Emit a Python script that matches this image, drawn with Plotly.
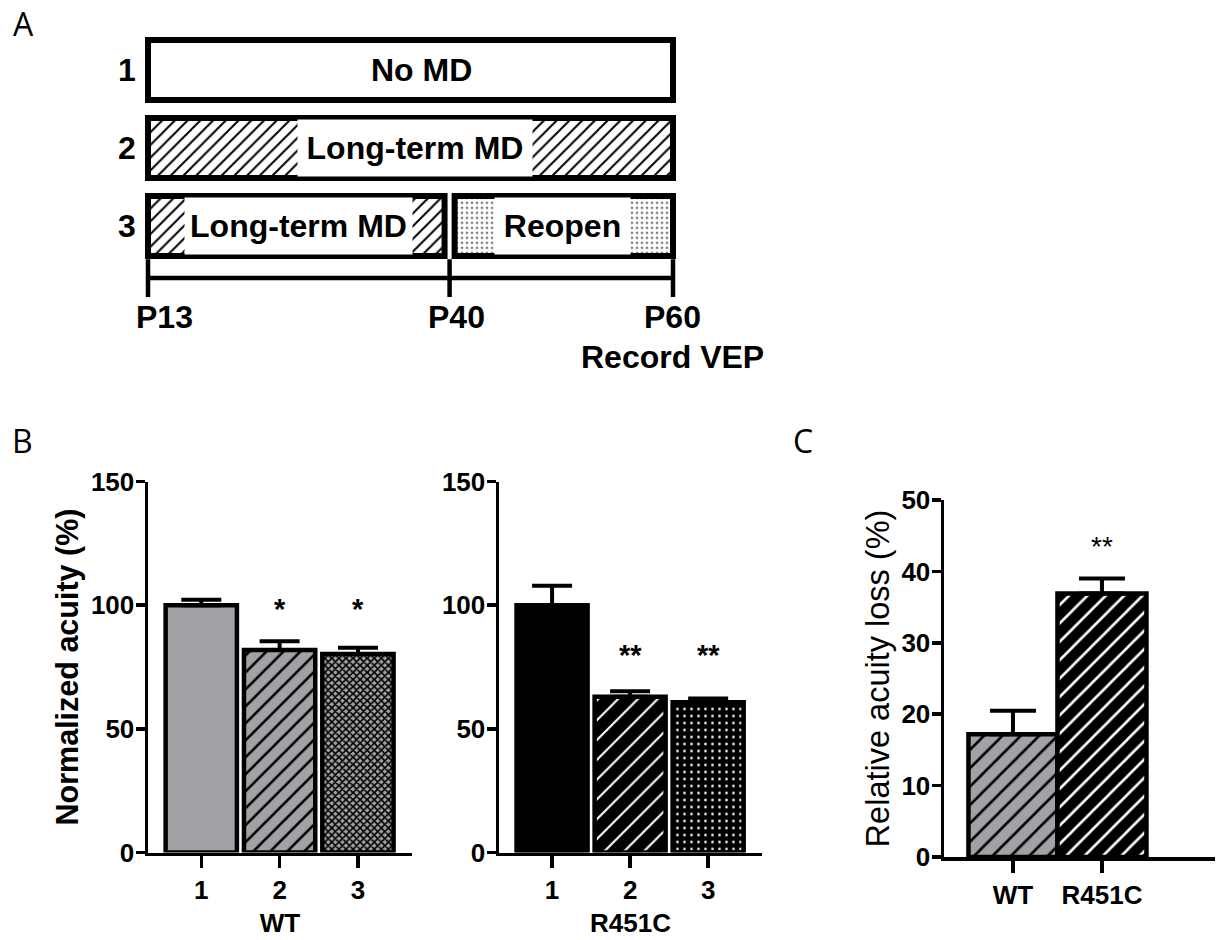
import plotly.graph_objects as go

# ---------------- data ----------------
# Panel A: experimental timeline (postnatal days)
timeline_days = [13, 40, 60]
timeline_labels = ["P13", "P40", "P60"]
timeline_note = "Record VEP"
row_ids = [1, 2, 3]
row_names = ["1", "2", "3"]
seg_rows = [1, 2, 3, 3]
seg_start = [13, 13, 13, 40]
seg_end = [60, 60, 40, 60]
seg_labels = ["No MD", "Long-term MD", "Long-term MD", "Reopen"]
seg_kinds = ["none", "hatch", "hatch", "dots"]

# Panel B: normalized acuity (%)
b_categories = ["1", "2", "3"]
wt_values = [100.0, 81.9, 80.3]
wt_errors = [2.2, 3.5, 2.5]
wt_sig = ["", "*", "*"]
r451c_values = [100.0, 63.0, 60.7]
r451c_errors = [7.9, 2.2, 1.6]
r451c_sig = ["", "**", "**"]

# Panel C: relative acuity loss (%)
c_categories = ["WT", "R451C"]
c_values = [17.2, 36.9]
c_errors = [3.3, 2.1]
c_sig = ["", "**"]

# ---------------- styling ----------------
W, H = 1221, 940
FONT = "Arial, 'Liberation Sans', sans-serif"
GRAY = "#a2a2a6"
BLACK = "#000000"


def px(p):
    return p / W


def py(p):
    return 1 - p / H


fig = go.Figure()

# ---------------- Panel A ----------------
GAP = 0.45
for r, s, e, kind in zip(seg_rows, seg_start, seg_end, seg_kinds):
    left = s + (GAP if s != min(seg_start) else 0)
    right = e - (GAP if e != max(seg_end) else 0)
    if kind == "hatch":
        pat = dict(shape="/", fgcolor=BLACK, bgcolor="white", size=9, solidity=0.22)
    elif kind == "dots":
        pat = dict(shape=".", fgcolor=BLACK, bgcolor="white", size=5, solidity=0.1)
    else:
        pat = dict(shape="")
    fig.add_trace(go.Bar(
        orientation="h", y=[r], x=[right - left], base=[left], width=0.77,
        marker=dict(color="white", line=dict(color=BLACK, width=6), pattern=pat),
        xaxis="x4", yaxis="y4", showlegend=False, hoverinfo="skip"))

TL_Y = 3.667
fig.add_trace(go.Scatter(
    x=[min(timeline_days), max(timeline_days)], y=[TL_Y, TL_Y], mode="lines",
    line=dict(color=BLACK, width=4.5), xaxis="x4", yaxis="y4",
    showlegend=False, hoverinfo="skip"))
fig.add_trace(go.Scatter(
    x=timeline_days, y=[TL_Y] * len(timeline_days), mode="markers",
    marker=dict(symbol="line-ns", size=27, line=dict(color=BLACK, width=4.5)),
    xaxis="x4", yaxis="y4", showlegend=False, hoverinfo="skip"))

fontA = dict(family=FONT, size=32, color=BLACK, weight="bold")
# segment labels (white patch behind text)
lab_shift = [11, 4, 0, 1]
lab_bg_w = [0, 232, 225, 133]
for r, s, e, lab, sh, bw in zip(seg_rows, seg_start, seg_end, seg_labels, lab_shift, lab_bg_w):
    ann = dict(x=(s + e) / 2, y=r, xref="x4", yref="y4", text=lab, showarrow=False,
               font=fontA, xshift=sh, xanchor="center", yanchor="middle")
    if bw:
        ann.update(bgcolor="white", width=bw, height=54)
    fig.add_annotation(**ann)
for r, n in zip(row_ids, row_names):
    fig.add_annotation(x=11.1, y=r, xref="x4", yref="y4", text=n, showarrow=False,
                       font=fontA, xanchor="center", yanchor="middle")
tl_shift = [16, 7, 0]
for d, lab, sh in zip(timeline_days, timeline_labels, tl_shift):
    fig.add_annotation(x=d, y=py(317), xref="x4", yref="paper", text=lab, showarrow=False,
                       font=fontA, xshift=sh, xanchor="center", yanchor="middle")
fig.add_annotation(x=max(timeline_days), y=py(357), xref="x4", yref="paper", text=timeline_note,
                   showarrow=False, font=fontA, xanchor="center", yanchor="middle")

# ---------------- Panel B ----------------
bar_line = dict(color=BLACK, width=4.5)
fig.add_trace(go.Bar(
    x=b_categories, y=wt_values, width=0.91,
    marker=dict(color=GRAY, line=bar_line,
                pattern=dict(shape=["", "/", "x"], fgcolor=BLACK, bgcolor=GRAY,
                             size=[10, 12, 5], solidity=[0.2, 0.22, 0.55])),
    error_y=dict(type="data", array=wt_errors, arrayminus=[0] * 3, symmetric=False,
                 thickness=4, width=20, color=BLACK),
    xaxis="x", yaxis="y", showlegend=False, hoverinfo="skip"))
fig.add_trace(go.Bar(
    x=b_categories, y=r451c_values, width=0.91,
    marker=dict(color=BLACK, line=bar_line,
                pattern=dict(shape=["", "/", "."], fgcolor="white", bgcolor=BLACK,
                             size=[10, 14, 7], solidity=[0.2, 0.15, 0.12])),
    error_y=dict(type="data", array=r451c_errors, arrayminus=[0] * 3, symmetric=False,
                 thickness=4, width=20, color=BLACK),
    xaxis="x2", yaxis="y2", showlegend=False, hoverinfo="skip"))

# ---------------- Panel C ----------------
c_fill = [GRAY, BLACK]
c_lines = [BLACK, "white"]
for i, (cat, v, e) in enumerate(zip(c_categories, c_values, c_errors)):
    fig.add_trace(go.Bar(
        x=[cat], y=[v], width=1.0,
        marker=dict(color=c_fill[i], line=bar_line,
                    pattern=dict(shape="/", fgcolor=c_lines[i], bgcolor=c_fill[i],
                                 size=13, solidity=0.2)),
        error_y=dict(type="data", array=[e], arrayminus=[0], symmetric=False,
                     thickness=4, width=23, color=BLACK),
        xaxis="x3", yaxis="y3", showlegend=False, hoverinfo="skip"))

# significance marks (x given as category index)
sig_font_b = dict(family=FONT, size=29, color=BLACK, weight="bold")
for i, s in enumerate(wt_sig):
    if s:
        fig.add_annotation(x=i, y=100, xref="x", yref="y", text=s, showarrow=False,
                           font=sig_font_b, yanchor="middle", yshift=-4)
for i, s in enumerate(r451c_sig):
    if s:
        fig.add_annotation(x=i, y=81.5, xref="x2", yref="y2", text=s, showarrow=False,
                           font=sig_font_b, yanchor="middle", yshift=-4)
for i, s in enumerate(c_sig):
    if s:
        fig.add_annotation(x=i, y=44.1, xref="x3", yref="y3", text=s, showarrow=False,
                           font=dict(family=FONT, size=28, color=BLACK), yanchor="middle", yshift=-4)

# panel letters
letter_font = dict(family="Open Sans", size=32, color=BLACK)
for t, x, y in [("A", 23, 23), ("B", 22, 440), ("C", 803, 440)]:
    fig.add_annotation(x=px(x), y=py(y), xref="paper", yref="paper", text=t, showarrow=False,
                       font=letter_font, xanchor="center", yanchor="middle")

# ---------------- axes ----------------
tickfont = dict(family=FONT, size=26, color=BLACK, weight="bold")
xtickfont = dict(family=FONT, size=26, color=BLACK, weight="bold")
common_y = dict(showline=True, linecolor=BLACK, linewidth=3.5, ticks="outside", ticklen=9,
                tickwidth=3.5, tickcolor=BLACK, showgrid=False, zeroline=False,
                tickfont=tickfont, fixedrange=True, ticklabelstandoff=-4)
common_x = dict(showline=True, linecolor=BLACK, linewidth=3.5, ticks="outside", ticklen=12,
                tickwidth=3.5, tickcolor=BLACK, showgrid=False, zeroline=False,
                tickfont=xtickfont, type="category", fixedrange=True, ticklabelstandoff=0)

fig.update_layout(
    width=W, height=H, margin=dict(l=0, r=0, t=0, b=0),
    paper_bgcolor="white", plot_bgcolor="white", template="none",
    barmode="overlay", showlegend=False,
    xaxis=dict(common_x, domain=[px(148), px(412)], range=[-0.68, 2.69], anchor="y",
               title=dict(text="WT", font=xtickfont, standoff=10)),
    yaxis=dict(common_y, domain=[py(852.5), py(481.5)], range=[0, 150], tickvals=[0, 50, 100, 150],
               anchor="x",
               title=dict(text="Normalized acuity (%)",
                          font=dict(family=FONT, size=30.5, color=BLACK, weight="bold"), standoff=4)),
    xaxis2=dict(common_x, domain=[px(499), px(762)], range=[-0.68, 2.69], anchor="y2",
                title=dict(text="R451C", font=xtickfont, standoff=10)),
    yaxis2=dict(common_y, domain=[py(852.5), py(481.5)], range=[0, 150], tickvals=[0, 50, 100, 150],
                anchor="x2"),
    xaxis3=dict(common_x, domain=[px(944), px(1215)], range=[-0.775, 2.27], anchor="y3"),
    yaxis3=dict(common_y, domain=[py(857), py(500)], range=[0, 50], tickvals=[0, 10, 20, 30, 40, 50],
                anchor="x3",
                title=dict(text="Relative acuity loss (%)",
                           font=dict(family=FONT, size=32.5, color=BLACK), standoff=3)),
    xaxis4=dict(domain=[px(114.5), px(706.5)], range=[10, 63], visible=False, anchor="y4",
                fixedrange=True),
    yaxis4=dict(domain=[py(350.8), py(15.4)], range=[4.6, 0.3], visible=False, anchor="x4",
                fixedrange=True),
)

fig.write_html("out.html", config={"displayModeBar": False, "staticPlot": True})
